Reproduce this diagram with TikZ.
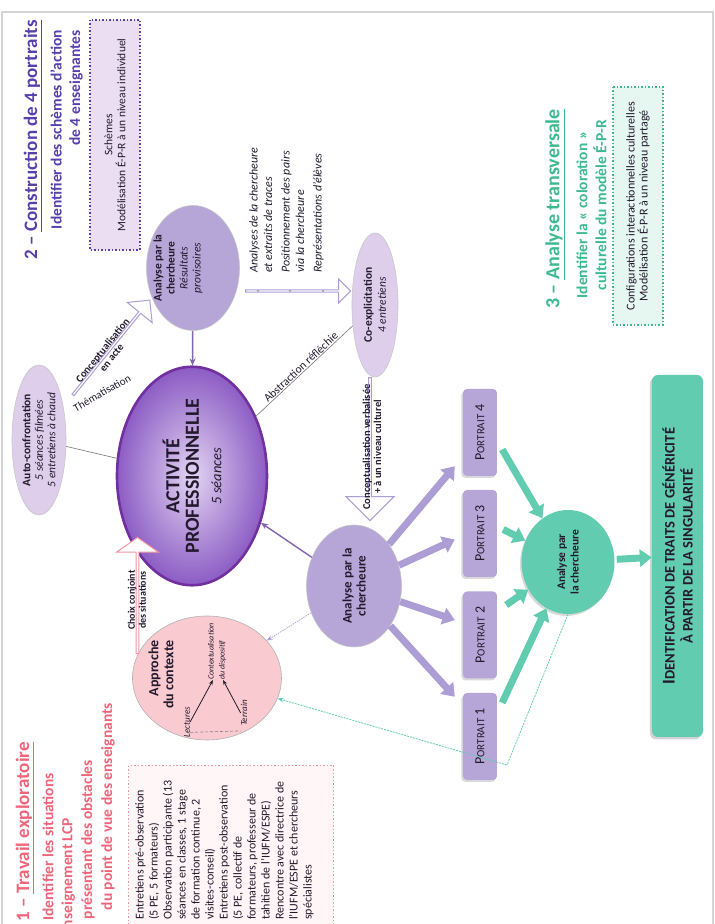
\documentclass[tikz,border=0pt]{standalone}
\usepackage{fontspec}
\setmainfont{Carlito}
\newfontfamily\symbfont{DejaVu Sans}
\usetikzlibrary{shapes,arrows,arrows.meta,positioning,calc,shadows}
\definecolor{sectwo}{RGB}{88,64,172}
\definecolor{secone}{RGB}{240,100,122}
\definecolor{secthree}{RGB}{60,186,142}
\definecolor{lavender}{RGB}{182,166,216}
\definecolor{lightlav}{RGB}{222,206,236}
\definecolor{boxlav}{RGB}{236,222,242}
\definecolor{actborder}{RGB}{112,48,160}
\definecolor{actinner}{RGB}{226,212,242}
\definecolor{actouter}{RGB}{140,92,196}
\definecolor{arrowlav}{RGB}{172,158,212}
\definecolor{linepurple}{RGB}{128,100,176}
\definecolor{pinkfill}{RGB}{249,202,208}
\definecolor{pinkline}{RGB}{242,150,162}
\definecolor{pinkpale}{RGB}{255,246,247}
\definecolor{tealfill}{RGB}{98,204,176}
\definecolor{tealpale}{RGB}{230,246,241}
\definecolor{framegray}{RGB}{212,212,212}
\definecolor{textdark}{RGB}{35,25,45}

\newcommand{\chk}{\makebox[14pt][l]{\symbfont\fontsize{8}{10}\selectfont ✓}}
\newcommand{\ind}{\hspace*{14pt}}
\newcommand{\pcap}[1]{{\fontsize{11}{13}\selectfont #1}}
\newcommand{\icap}[1]{{\fontsize{14.5}{18}\selectfont #1}}

\begin{document}
\begin{tikzpicture}[x=1pt, y=1pt, rotate=90, transform shape,
    bubble/.style={ellipse, draw=black!22, line width=0.6pt, inner sep=0pt, align=center, text=textdark},
    portrait/.style={rectangle, rounded corners=4pt, fill=lavender, minimum width=87, minimum height=34,
        inner sep=0pt, text=textdark, font=\fontsize{14}{16}\selectfont,
        drop shadow={opacity=0.3, shadow xshift=-1.5pt, shadow yshift=-2pt}},
    dotbox/.style={rectangle, draw=#1, dotted, line width=1.5pt, inner sep=0pt},
    hollow/.style={single arrow, draw=#1, fill=white, line width=1pt, inner sep=0pt},
    thickarrow/.style={-{Triangle[width=17pt, length=12pt]}, line width=7pt, #1},
    linkarrow/.style={-{Stealth[length=7pt, width=6pt]}, line width=1.4pt, linepurple},
    sechead/.style={font=\fontsize{19}{22}\selectfont\bfseries, inner sep=0pt},
    secsub/.style={font=\fontsize{15.5}{18}\selectfont\bfseries, inner sep=0pt},
    small/.style={inner sep=0pt, text=textdark}]

\useasboundingbox (0,0) rectangle (924,715);

% frame of the page
\draw[framegray, line width=1.2pt] (-10,713) -- (912,713) -- (912,2) -- (-10,2);

% 1 - travail exploratoire
\node[sechead, text=secone, anchor=east] (s1title) at (182,690) {1 -- \underline{Travail exploratoire}};
\node[secsub, text=secone, anchor=east] (s1a) at (151,667) {Identifier les situations};
\node[secsub, text=secone, anchor=east] (s1b) at (106,647) {d'enseignement LCP};
\node[secsub, text=secone, anchor=east] (s1c) at (164,627) {présentant des obstacles};
\node[secsub, text=secone, anchor=east] (s1d) at (221,607) {du point de vue des enseignants};
\node[dotbox=pinkline, fill=pinkpale, minimum width=180, minimum height=205, anchor=north east] (obsbox) at (159,587) {};
\node[anchor=north west, align=left, inner sep=0pt, text=textdark,
      font=\fontsize{12}{14}\selectfont] (obslist) at (-10,580) {%
\chk Entretiens pré-observation\\
\ind(5 PE, 5 formateurs)\\
\chk Observation participante (13\\
\ind séances en classes, 1 stage\\
\ind de formation continue, 2\\
\ind visites-conseil)\\
\chk Entretiens post-observation\\
\ind(5 PE, collectif de\\
\ind formateurs, professeur de\\
\ind tahitien de l'IUFM/ESPE)\\
\chk Rencontre avec directrice de\\
\ind l'IUFM/ESPE et chercheurs\\
\ind spécialistes};

% 2 - construction de 4 portraits
\node[sechead, text=sectwo, anchor=east] (s2title) at (904,682) {2 -- \underline{Construction de 4 portraits}};
\node[secsub, text=sectwo, anchor=east] (s2a) at (894,659) {Identifier des schèmes d'action};
\node[secsub, text=sectwo, anchor=east] (s2b) at (894,639) {de 4 enseignantes};
\node[dotbox=sectwo, fill=boxlav, minimum width=230, minimum height=50, align=center, text=textdark,
      font=\fontsize{11.5}{13}\selectfont] (s2box) at (789,600) {Schèmes\\Modélisation É-P-R à un niveau individuel};

% 3 - analyse transversale
\node[sechead, text=secthree, font=\fontsize{20}{23}\selectfont\bfseries] (s3title) at (715,160) {3 -- \underline{Analyse transversale}};
\node[secsub, text=secthree] (s3a) at (709,133) {Identifier la « coloration »};
\node[secsub, text=secthree] (s3b) at (719,115) {culturelle du modèle É-P-R};
\node[dotbox=secthree, fill=tealpale, minimum width=238, minimum height=50, align=center, text=textdark,
      font=\fontsize{12}{13}\selectfont] (s3box) at (718,77) {Configurations interactionnelles culturelles\\Modélisation É-P-R à un niveau partagé};

% retour vers le contexte
\coordinate (tealbend) at (159,208);

% Nodes
\node[bubble, minimum width=167, minimum height=150, draw=actborder, line width=2.6pt,
      shading=radial, inner color=actinner, outer color=actouter,
      font=\fontsize{20}{19.5}\selectfont\bfseries] (act) at (448,523)
      {ACTIVITÉ\\PROFESSIONNELLE\\[3pt]{\fontsize{14.5}{16}\selectfont\mdseries\itshape 5 séances}};
\node[bubble, fill=lightlav, minimum width=150, minimum height=54, font=\fontsize{11.5}{12.5}\selectfont] (auto) at (484,676)
      {\textbf{Auto-confrontation}\\\textit{5 séances filmées}\\\textit{5 entretiens à chaud}};
\node[bubble, fill=lavender, minimum width=125, minimum height=93] (anatop) at (656,522) {};
\node[small, align=center, font=\fontsize{11.5}{13}\selectfont] (anatoptxt) at (656,537)
      {\textbf{Analyse par la}\\\textbf{chercheure}\\\textit{Résultats}\\\textit{provisoires}};
\node[bubble, fill=lightlav, minimum width=144, minimum height=46, font=\fontsize{11.5}{14}\selectfont] (coexp) at (619,340)
      {\textbf{Co-explicitation}\\\textit{4 entretiens}};
\node[bubble, fill=lavender, minimum width=122, minimum height=95, font=\fontsize{13}{14}\selectfont\bfseries] (anamid) at (338,361)
      {Analyse par la\\chercheure};
\node[bubble, fill=pinkfill, draw=black!30, minimum width=124, minimum height=149] (approche) at (246,508) {};
\node[anchor=east, align=right, inner sep=0pt, text=textdark, font=\fontsize{14}{15}\selectfont\bfseries] (apptxt) at (284,554)
      {Approche\\du contexte};
\node[small, font=\fontsize{9}{10}\selectfont\itshape] (lect) at (202,528) {Lectures};
\node[small, font=\fontsize{9}{10}\selectfont\itshape] (terr) at (211,471) {Terrain};
\node[small, font=\fontsize{8}{11}\selectfont\itshape, align=left, anchor=west] (ctx) at (244,498)
      {Contextualisation\\du dispositif};

\node[portrait] (p1) at (187.5,235) {P\pcap{ORTRAIT} 1};
\node[portrait] (p2) at (289,235) {P\pcap{ORTRAIT} 2};
\node[portrait] (p3) at (390.5,235) {P\pcap{ORTRAIT} 3};
\node[portrait] (p4) at (491.5,235) {P\pcap{ORTRAIT} 4};

\draw[tealfill, line width=0.8pt, dash pattern=on 2pt off 1pt, -{Stealth[length=6pt]}]
      (tealbend) -- (approche);
\node[bubble, draw=none, fill=tealfill, minimum width=104, minimum height=93, drop shadow={opacity=0.3, shadow xshift=-1.5pt, shadow yshift=-2pt},
      font=\fontsize{11.5}{13.5}\selectfont\bfseries] (green) at (362,147) {Analyse par\\la chercheure};
\draw[tealfill, line width=0.8pt, dash pattern=on 2pt off 1pt] (green.west) -- (tealbend);
\node[rectangle, rounded corners=6pt, fill=tealfill, minimum width=362, minimum height=51, align=center, text=textdark,
      drop shadow={opacity=0.35, shadow xshift=-2pt, shadow yshift=-2.5pt},
      font=\fontsize{18}{18}\selectfont\bfseries] (ident) at (368,37.5)
      {I\icap{DENTIFICATION DE TRAITS DE GÉNÉRICITÉ}\\\icap{À PARTIR DE LA SINGULARITÉ}};

% Block arrows
\node[hollow=arrowlav, minimum height=105, minimum width=24, single arrow head extend=4.5pt, rotate=-90] (listarrow) at (633,417.5) {};
\foreach \y in {457,425,392} {
    \fill[black!45] (633,\y) circle (1pt);
}
\node[anchor=north west, align=left, inner sep=0pt, text=textdark, font=\fontsize{12}{14.5}\selectfont\itshape] (listtxt) at (651,466)
      {Analyses de la chercheure\\et extraits de traces\\[3pt]Positionnement des pairs\\via la chercheure\\[3pt]Représentations d'élèves};

\node[hollow=arrowlav, minimum height=143, minimum width=48, single arrow head extend=9pt, rotate=180] (cvarrow) at (475.5,345) {};
\node[small, font=\fontsize{10.5}{11}\selectfont\bfseries, align=center] (cvtxt) at (477,343)
      {Conceptualisation verbalisée\\+ à un niveau culturel};

\node[hollow=pinkline, minimum height=116, minimum width=42, single arrow head extend=7pt, single arrow tip angle=110] (choixarrow) at (328,577.5) {};
\node[small, font=\fontsize{10}{11}\selectfont\bfseries, align=center] (choixtxt) at (324,578)
      {Choix conjoint\\des situations};

\node[hollow=arrowlav, minimum height=122, minimum width=32, single arrow head extend=6pt, rotate=-39] (caarrow) at (576,604) {};
\node[small, font=\fontsize{10.5}{11.5}\selectfont\bfseries, align=center, rotate=-39] (catxt) at (570,608)
      {Conceptualisation\\en acte};

% Connections
\draw[linkarrow] (anatop) -- (act);
\draw[linkarrow] (anamid) -- (act);
\draw[-{Stealth[length=6pt]}, line width=0.7pt, arrowlav, dash pattern=on 1.5pt off 1pt] (anamid) -- (approche);
\draw[black!55, line width=0.6pt] (act) -- (coexp) node[midway, sloped, above, inner sep=1pt, text=textdark,
      font=\fontsize{11.5}{13}\selectfont] (abstxt) {Abstraction réfléchie};
\draw[black!55, line width=0.6pt] (act) -- (auto);
\node[small, font=\fontsize{11}{13}\selectfont, rotate=-60] (thmtxt) at (531,613) {Thématisation};

\draw[-{Stealth[length=5pt]}, line width=0.8pt, textdark] (lect.south) -- ([yshift=4]ctx.west);
\draw[-{Stealth[length=5pt]}, line width=0.8pt, textdark] (terr.north) -- ([yshift=-6]ctx.west);
\draw[black!50, line width=0.6pt, densely dashed] ([xshift=5]lect.south west) -- ([xshift=-5]terr.north west);

\draw[thickarrow=arrowlav] (anamid) -- ([xshift=10,yshift=8]p4.north west);
\draw[thickarrow=arrowlav] (anamid) -- ([xshift=-6,yshift=8]p3.north);
\draw[thickarrow=arrowlav] (anamid) -- ([xshift=15,yshift=8]p2.north);
\draw[thickarrow=arrowlav] (anamid) -- ([xshift=-4,yshift=8]p1.north east);

\draw[thickarrow=tealfill] ([xshift=-17,yshift=-5]p4.south) -- (green);
\draw[thickarrow=tealfill] ([xshift=4,yshift=-6]p3.south) -- (green);
\draw[thickarrow=tealfill] ([xshift=30,yshift=-9]p2.south) -- (green);
\draw[thickarrow=tealfill] ([xshift=-10,yshift=-5]p1.south east) -- (green);
\draw[thickarrow=tealfill, shorten <=2pt] (green) -- (ident);

\end{tikzpicture}
\end{document}
